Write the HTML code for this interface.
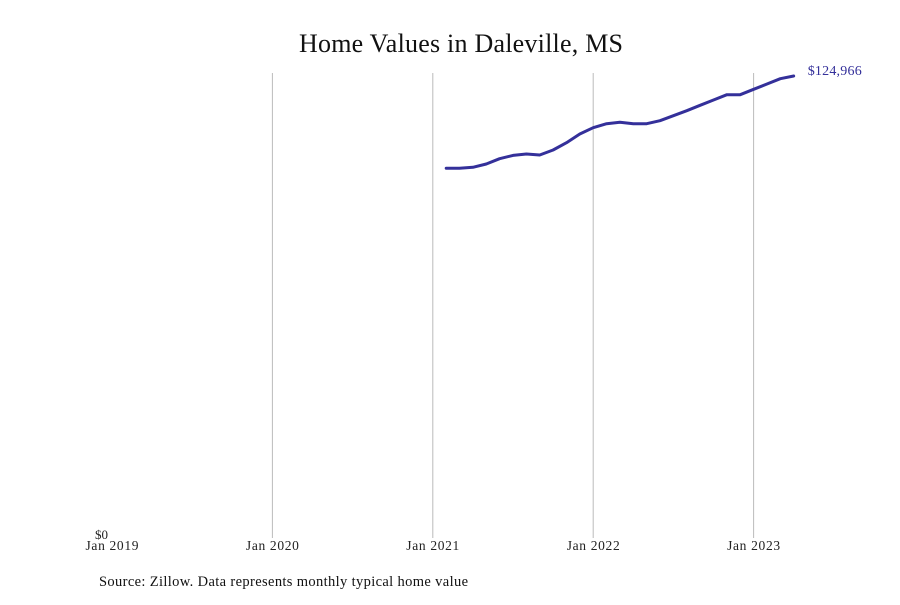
<!DOCTYPE html>
<html><head><meta charset="utf-8"><style>
body{margin:0;background:#fff;}
svg{font-family:"Liberation Serif",serif;}
</style></head><body>
<svg width="900" height="600">
<text x="461" y="52" text-anchor="middle" font-size="26" textLength="324" fill="#111">Home Values in Daleville, MS</text>
<g id="grid"></g><g id="xlabels"></g>
<text x="108" y="539" text-anchor="end" font-size="13" fill="#222">$0</text>
<path id="line" fill="none" stroke="#34309a" stroke-width="3" stroke-linejoin="round" stroke-linecap="round"/>
<text id="endlabel" font-size="14" fill="#34309a"></text>
<text x="99" y="586" font-size="14.5" textLength="369" fill="#111">Source: Zillow. Data represents monthly typical home value</text>
</svg>
<script>
const tickLabels=["Jan 2019","Jan 2020","Jan 2021","Jan 2022","Jan 2023"];
const tickMonths=[0,12,24,36,48];
const startMonth=25; // Feb 2021 (months since Jan 2019)
const values=[99990,99990,100260,101160,102600,103500,103860,103590,104950,106930,109280,110990,112070,112430,112070,112070,112880,114230,115590,117030,118480,119920,119920,121360,122800,124240,124966];
const ns="http://www.w3.org/2000/svg";
const x=m=>112+m*(160.4/12);
const y=v=>538-v*(462/124966);
const grid=document.getElementById('grid'),xl=document.getElementById('xlabels');
tickMonths.forEach((m,i)=>{
  if(i>0){const l=document.createElementNS(ns,'line');
  l.setAttribute('x1',x(m));l.setAttribute('x2',x(m));l.setAttribute('y1',73);l.setAttribute('y2',538);
  l.setAttribute('stroke','#bbb');l.setAttribute('stroke-width','1');
  
  
  grid.appendChild(l);}
  const t=document.createElementNS(ns,'text');
  t.setAttribute('x',x(m));t.setAttribute('y',550);t.setAttribute('text-anchor','middle');t.setAttribute('font-size','13.5');t.setAttribute('textLength','53');t.setAttribute('fill','#222');
  t.textContent=tickLabels[i];
  
  
  xl.appendChild(t);
});
document.getElementById('line').setAttribute('d',values.map((v,i)=>(i?'L':'M')+x(startMonth+i).toFixed(1)+','+y(v).toFixed(1)).join(''));
const last=values.length-1,el=document.getElementById('endlabel');
el.setAttribute('x',x(startMonth+last)+14);el.setAttribute('y',y(values[last])-1);
el.setAttribute('textLength','54');
el.textContent='$'+values[last].toLocaleString('en-US');
</script>
</body></html>
